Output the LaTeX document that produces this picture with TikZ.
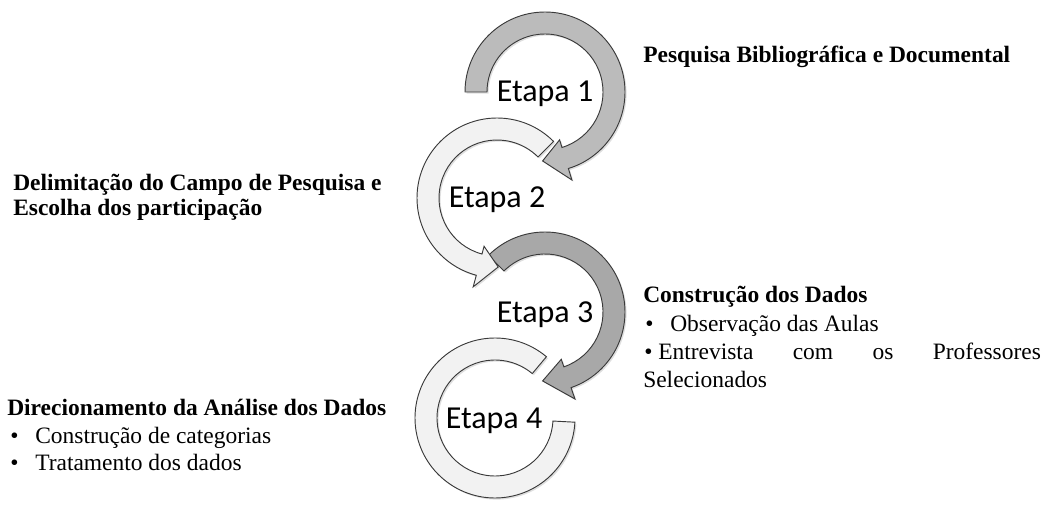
\documentclass[tikz,border=0pt]{standalone}
\usepackage{fontspec}
\setmainfont{Liberation Serif}
\newfontfamily\etapafont{Carlito}
\usetikzlibrary{shadows}
\definecolor{arrowMid}{HTML}{BBBBBB}
\definecolor{arrowDark}{HTML}{A8A8A8}
\definecolor{arrowLight}{HTML}{F2F2F2}
\definecolor{ringLine}{HTML}{3A3A3A}
\newcommand\circArrow[5]{%
  \draw[ring, fill=#1, shift={#2}] (#3:80) arc[start angle=#3, end angle=#4, radius=80]
    -- (#4:92) -- (#5:69) -- (#4:50) -- (#4:58)
    arc[start angle=#4, end angle=#3, radius=58] -- cycle;}
\begin{document}
\begin{tikzpicture}[x=0.75pt,y=0.75pt,
  lbl/.style={anchor=base west, inner sep=0pt, font=\fontsize{17.6}{21}\selectfont},
  hdr/.style={anchor=base west, inner sep=0pt, font=\fontsize{17.6}{21}\selectfont\bfseries},
  etp/.style={anchor=base, inner sep=0pt, font=\etapafont\fontsize{24}{28}\selectfont},
  ring/.style={draw=ringLine, line width=0.7pt,
    drop shadow={opacity=0.25, shadow xshift=1.2pt, shadow yshift=-1.2pt}}]
\useasboundingbox (0,0) rectangle (1043,504);
% ring 4 (no head)
\draw[ring, fill=arrowLight, shift={(495,86)}] (50:80) arc[start angle=50, end angle=357, radius=80]
  -- (357:58) arc[start angle=357, end angle=50, radius=58] -- cycle;
% ring 3
\circArrow{arrowDark}{(545,192)}{135}{-71}{-92}
% ring 2
\circArrow{arrowLight}{(497,306)}{45}{255}{271}
% ring 1
\circArrow{arrowMid}{(545,412)}{180}{-73}{-92}
% step labels
\node[etp] (e1) at (545,402) {Etapa 1};
\node[etp] (e2) at (497,296) {Etapa 2};
\node[etp] (e3) at (545,181) {Etapa 3};
\node[etp] (e4) at (494,76) {Etapa 4};
% texts
\node[hdr] (t1) at (643,441) {Pesquisa Bibliográfica e Documental};
\node[hdr] (t2a) at (13,313) {Delimitação do Campo de Pesquisa e};
\node[hdr] (t2b) at (13,288) {Escolha dos participação};
\node[hdr] (t3) at (643,201) {Construção dos Dados};
\node[lbl] (b3a) at (645,172) {•};
\node[lbl] (t3a) at (670,172) {Observação das Aulas};
\node[lbl] (b3b) at (644,144) {•};
\node[lbl] (t3b) at (658,144) {\makebox[287pt][s]{Entrevista com os Professores}};
\node[lbl] (t3c) at (643,117) {Selecionados};
\node[hdr] (t4) at (7,89) {Direcionamento da Análise dos Dados};
\node[lbl] (b4a) at (10,61) {•};
\node[lbl] (t4a) at (35,61) {Construção de categorias};
\node[lbl] (b4b) at (10,34) {•};
\node[lbl] (t4b) at (35,34) {Tratamento dos dados};
\end{tikzpicture}
\end{document}
